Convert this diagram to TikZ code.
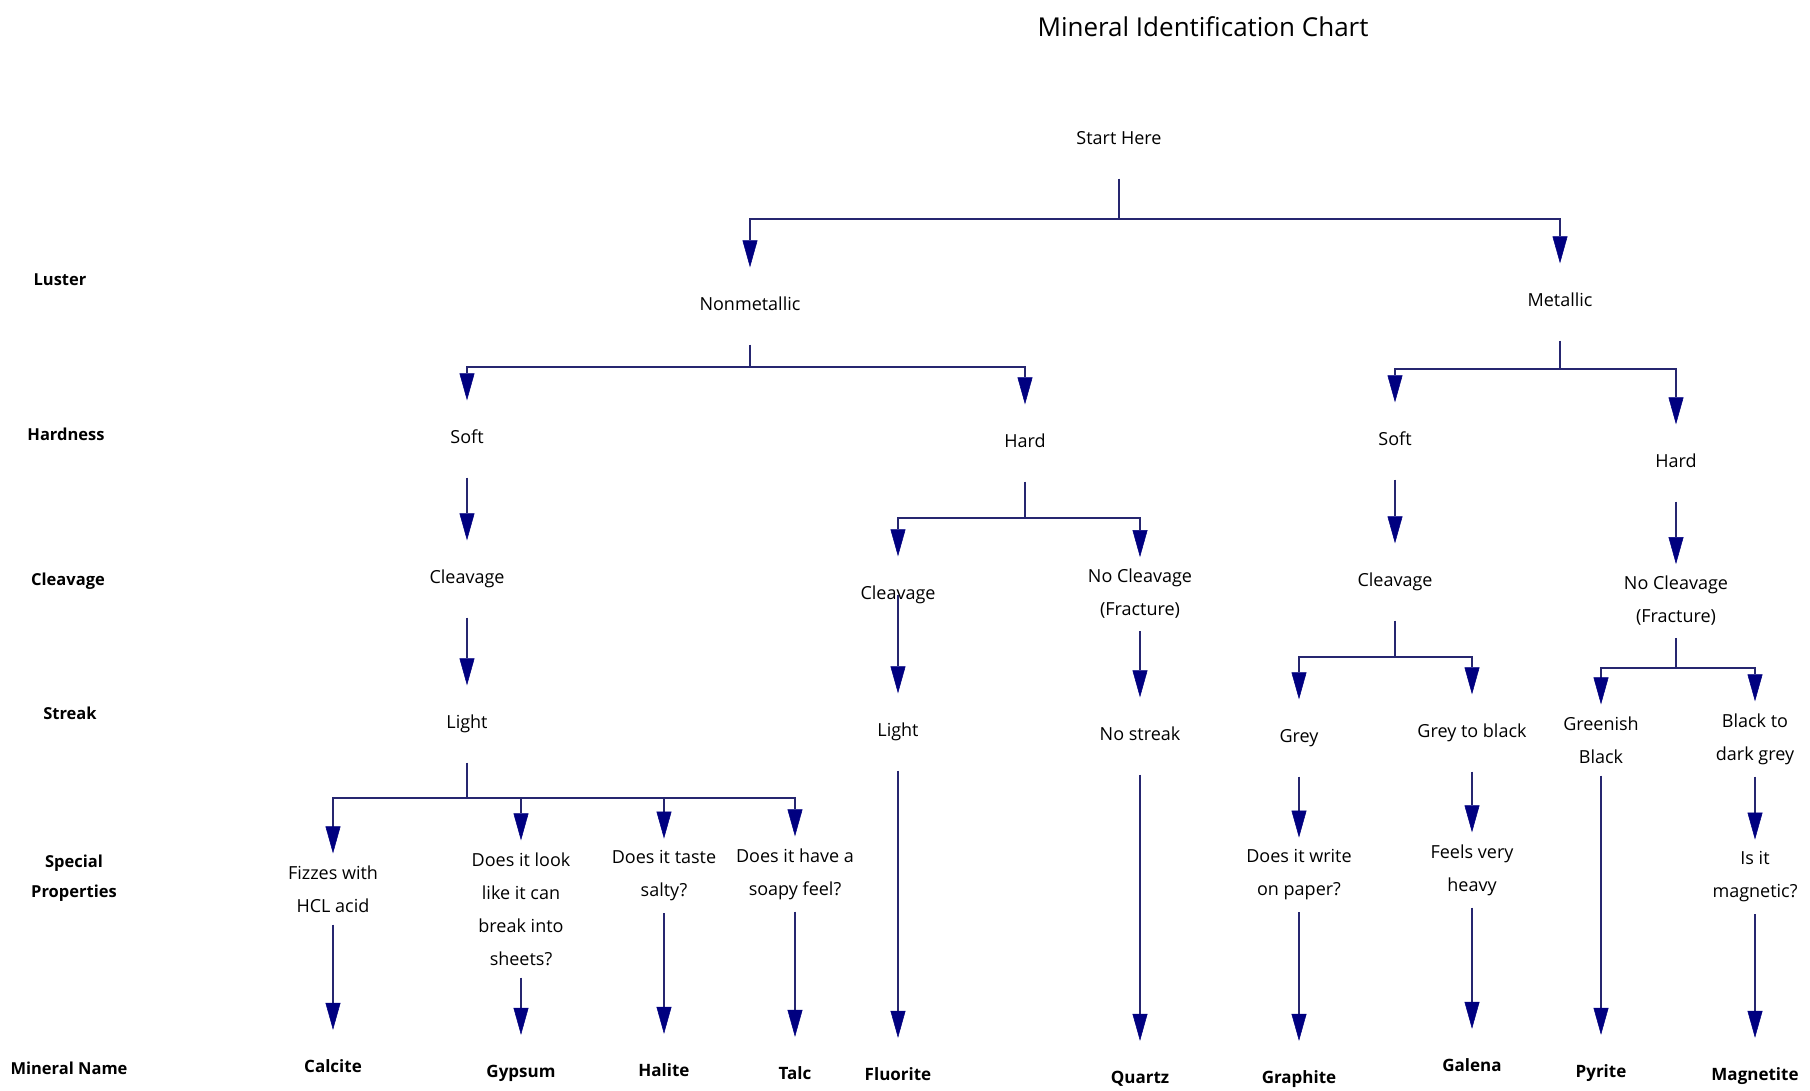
\documentclass[tikz,border=0pt]{standalone}
\usepackage{fontspec}
\setmainfont{Open Sans}
\usetikzlibrary{arrows.meta}
\definecolor{linenavy}{RGB}{38,38,112}
\definecolor{tipnavy}{RGB}{0,0,128}

\begin{document}
\begin{tikzpicture}[x=1pt,y=-1pt,
	lbl/.style={inner xsep=2pt,inner ysep=30pt,text height=13pt,text depth=4pt,font=\fontsize{18}{22}\selectfont},
	qst/.style={inner xsep=2pt,inner ysep=12pt,align=center,font=\fontsize{18}{33}\selectfont},
	rowlbl/.style={align=center,font=\bfseries\fontsize{16.5}{30}\selectfont},
	mineral/.style={inner ysep=30pt,text height=12pt,text depth=4pt,font=\bfseries\fontsize{17}{20}\selectfont},
	stem/.style={draw=linenavy,line width=1.5pt},
	arr/.style={stem,-{Triangle[length=27pt,width=15pt,color=tipnavy,line width=0.5pt]}}]
		\useasboundingbox (0,0) rectangle (1810,1090);
		\node[font=\fontsize{26}{30}\selectfont] (title) at (1203,27) {Mineral Identification Chart};
		\node[rowlbl] (luster) at (60,280) {Luster};
		\node[rowlbl] (hardness) at (66,434) {Hardness};
		\node[rowlbl] (cleavage) at (68,581) {Cleavage};
		\node[rowlbl] (streak) at (70,713) {Streak};
		\node[rowlbl] (special) at (74,878) {Special\\Properties};
		\node[rowlbl] (minname) at (69,1068) {Mineral Name};

		\node[lbl] (start) at (1119,140) {Start Here};
		\coordinate (f-start) at (1119,219);
		\node[lbl] (nonmet) at (750,306) {Nonmetallic};
		\node[lbl] (met) at (1560,302) {Metallic};
		\draw[stem] (start) -- (f-start);
		\draw[arr] (f-start) -| (nonmet);
		\draw[arr] (f-start) -| (met);

		\coordinate (f-nonmet) at (750,367);
		\node[lbl] (softN) at (467,439) {Soft};
		\node[lbl] (hardN) at (1025,443) {Hard};
		\draw[stem] (nonmet) -- (f-nonmet);
		\draw[arr] (f-nonmet) -| (softN);
		\draw[arr] (f-nonmet) -| (hardN);

		\coordinate (f-met) at (1560,369);
		\node[lbl] (softM) at (1395,441) {Soft};
		\node[lbl] (hardM) at (1676,463) {Hard};
		\draw[stem] (met) -- (f-met);
		\draw[arr] (f-met) -| (softM);
		\draw[arr] (f-met) -| (hardM);

		\node[lbl] (cleavN) at (467,579) {Cleavage};
		\node[lbl] (lightN) at (467,724) {Light};
		\draw[arr] (softN) -- (cleavN);
		\draw[arr] (cleavN) -- (lightN);

		\coordinate (f-hardN) at (1025,518);
		\node[lbl] (cleavH) at (898,595) {Cleavage};
		\node[qst] (fracH) at (1140,594) {No Cleavage\\(Fracture)};
		\draw[stem] (hardN) -- (f-hardN);
		\draw[arr] (f-hardN) -| (cleavH);
		\draw[arr] (f-hardN) -| (fracH);
		\node[lbl] (lightH) at (898,732) {Light};
		\node[lbl] (nostreak) at (1140,736) {No streak};
		\draw[arr] (cleavH.center) -- (lightH);
		\draw[arr] (fracH) -- (nostreak);

		\node[lbl] (cleavM) at (1395,582) {Cleavage};
		\node[qst] (fracM) at (1676,601) {No Cleavage\\(Fracture)};
		\draw[arr] (softM) -- (cleavM);
		\draw[arr] (hardM) -- (fracM);

		\coordinate (f-cleavM) at (1395,657);
		\node[lbl] (grey) at (1299,738) {Grey};
		\node[lbl] (greyblack) at (1472,733) {Grey to black};
		\draw[stem] (cleavM) -- (f-cleavM);
		\draw[arr] (f-cleavM) -| (grey);
		\draw[arr] (f-cleavM) -| (greyblack);

		\coordinate (f-fracM) at (1676,668);
		\node[qst] (greenish) at (1601,740) {Greenish\\Black};
		\node[qst] (blackdark) at (1755,739) {Black to\\dark grey};
		\draw[stem] (fracM) -- (f-fracM);
		\draw[arr] (f-fracM) -| (greenish);
		\draw[arr] (f-fracM) -| (blackdark);

		\coordinate (f-lightN) at (467,798);
		\node[qst] (fizz) at (333,889) {Fizzes with\\HCL acid};
		\node[qst] (sheets) at (521,909) {Does it look\\like it can\\break into\\sheets?};
		\node[qst] (salty) at (664,876) {Does it taste\\salty?};
		\node[qst] (soapy) at (795,874) {Does it have a\\soapy feel?};
		\draw[stem] (lightN) -- (f-lightN);
		\draw[arr] (f-lightN) -| (fizz);
		\draw[arr] (f-lightN) -| (sheets);
		\draw[arr] (f-lightN) -| (salty);
		\draw[arr] (f-lightN) -| (soapy);

		\node[qst] (write) at (1299,875) {Does it write\\on paper?};
		\node[qst] (heavy) at (1472,870) {Feels very\\heavy};
		\node[qst] (magnetic) at (1755,877) {Is it\\magnetic?};
		\draw[arr] (grey) -- (write);
		\draw[arr] (greyblack) -- (heavy);
		\draw[arr] (blackdark) -- (magnetic);

		\node[mineral] (calcite) at (333,1068) {Calcite};
		\node[mineral] (gypsum) at (521,1073) {Gypsum};
		\node[mineral] (halite) at (664,1072) {Halite};
		\node[mineral] (talc) at (795,1075) {Talc};
		\node[mineral] (fluorite) at (898,1076) {Fluorite};
		\node[mineral] (quartz) at (1140,1079) {Quartz};
		\node[mineral] (graphite) at (1299,1079) {Graphite};
		\node[mineral] (galena) at (1472,1067) {Galena};
		\node[mineral] (pyrite) at (1601,1073) {Pyrite};
		\node[mineral] (magnetite) at (1755,1076) {Magnetite};
		\draw[arr] (fizz) -- (calcite);
		\draw[arr] (sheets) -- (gypsum);
		\draw[arr] (salty) -- (halite);
		\draw[arr] (soapy) -- (talc);
		\draw[arr] (lightH) -- (fluorite);
		\draw[arr] (nostreak) -- (quartz);
		\draw[arr] (write) -- (graphite);
		\draw[arr] (heavy) -- (galena);
		\draw[arr] (greenish) -- (pyrite);
		\draw[arr] (magnetic) -- (magnetite);
	\end{tikzpicture}
\end{document}
